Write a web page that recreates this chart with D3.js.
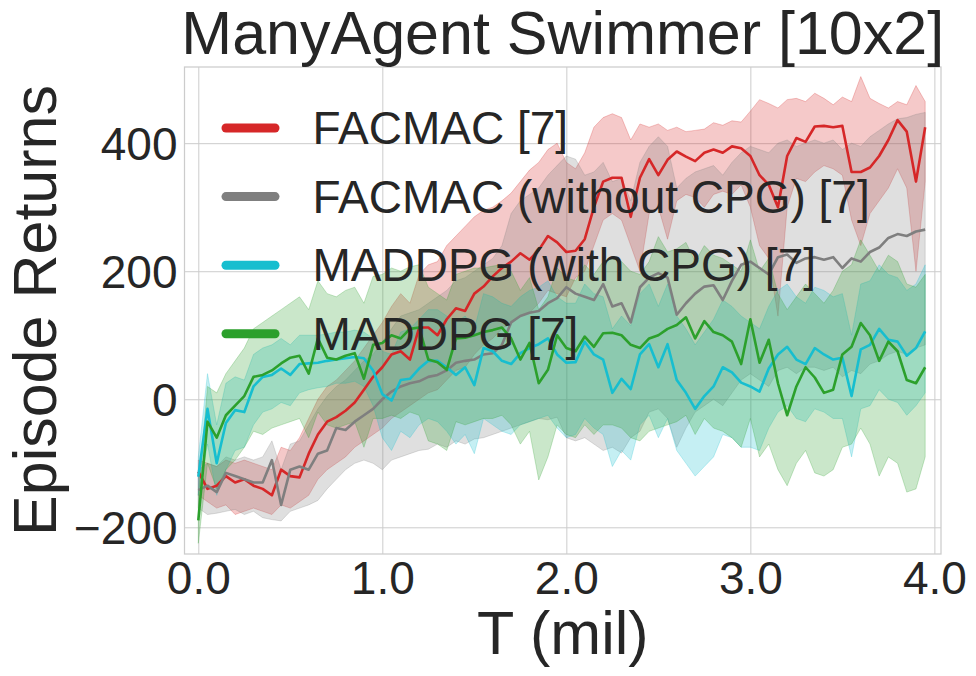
<!DOCTYPE html>
<html>
<head>
<meta charset="utf-8">
<script src="https://cdn.jsdelivr.net/npm/d3@7"></script>
<style>
  body { margin: 0; background: #fff; }
  text { font-family: "Liberation Sans", Arial, sans-serif; fill: #262626; }
</style>
</head>
<body>
<script>
// samples every 0.05 mil steps
var T_STEP = 0.05;

var seriesNames = ["FACMAC [7]", "FACMAC (without CPG) [7]", "MADDPG (with CPG) [7]", "MADDPG [7]"];
var seriesColors = ["#d62728", "#7f7f7f", "#17becf", "#2ca02c"];

var xTicks = [0, 1, 2, 3, 4];
var yTicks = [-200, 0, 200, 400];

var facmacMean = [-113,-140,-135,-120,-130,-125,-135,-140,-150,-110,
  -120,-122,-85,-55,-35,-28,-18,-5,15,35,
  50,70,75,62,112,112,100,125,142,138,
  165,176,192,205,215,228,218,233,255,245,
  230,232,250,300,340,346,346,285,346,375,
  350,374,387,379,372,385,390,385,395,392,
  380,350,335,300,380,408,402,426,427,425,
  427,355,355,362,380,405,436,418,340,425];
var facmacLo = [-150,-160,-170,-165,-180,-175,-170,-175,-180,-165,
  -170,-160,-150,-125,-110,-100,-90,-75,-65,-55,
  -45,-30,-20,-10,0,10,15,30,45,50,
  70,85,95,110,120,130,135,150,170,165,
  160,190,200,240,280,290,280,240,200,290,
  300,250,310,320,315,300,320,325,320,335,
  300,240,220,130,300,345,340,355,365,360,
  350,280,240,290,310,330,360,330,200,340];
var facmacHi = [-95,-100,-105,-95,-100,-95,-100,-105,-110,-75,
  -80,-60,-30,0,20,30,45,60,80,100,
  120,145,165,150,195,210,215,240,255,270,
  285,295,300,310,322,340,358,370,390,400,
  370,360,385,425,440,446,440,405,430,425,
  430,420,425,418,420,422,432,428,435,433,
  450,468,462,455,468,470,465,478,470,460,
  472,465,504,470,462,455,465,460,490,465];

var noCpgMean = [-142,-135,-145,-115,-120,-125,-130,-130,-95,-165,
  -110,-105,-110,-85,-80,-45,-48,-35,-25,-15,
  0,12,20,25,28,35,38,45,57,60,
  62,70,72,85,120,130,135,138,150,158,
  175,165,160,155,180,145,150,120,175,190,
  197,190,132,150,165,176,178,155,185,210,
  215,205,195,222,226,213,220,222,218,222,
  205,220,215,230,237,252,258,255,262,265];
var noCpgLo = [-170,-180,-178,-175,-172,-180,-175,-185,-188,-190,
  -175,-170,-165,-158,-140,-125,-110,-100,-95,-100,
  -110,-95,-90,-85,-80,-78,-70,-75,-65,-70,
  -62,-60,-55,-50,-45,-40,-35,-30,-32,-28,
  -60,-65,-60,-70,-80,-75,-84,-60,-50,-20,
  -15,-30,-75,-45,-20,-10,0,-10,10,30,
  40,30,20,45,50,40,50,50,45,50,
  35,45,40,55,60,70,75,70,80,85];
var noCpgHi = [-110,-100,-105,-90,-95,-90,-95,-90,-65,-110,
  -70,-65,-40,-15,5,20,30,45,60,70,
  90,110,130,135,140,150,160,170,185,190,
  200,210,220,240,290,310,320,330,350,365,
  380,375,350,355,370,340,345,310,370,395,
  410,395,330,345,355,360,365,350,370,385,
  395,390,385,400,405,395,400,405,400,405,
  390,400,395,410,420,430,438,440,445,448];

var cpgMean = [-121,-15,-100,-37,-17,-20,20,35,38,48,
  38,55,56,57,60,62,64,66,64,45,
  8,-2,30,32,48,60,60,50,38,50,
  22,80,75,60,55,72,80,86,95,70,
  57,58,90,70,62,10,32,16,70,86,
  50,86,30,10,-15,5,20,50,42,26,
  20,12,48,70,82,62,55,80,70,62,
  65,5,78,85,110,93,90,68,80,106];
var cpgLo = [-150,-70,-150,-110,-80,-75,-40,-20,-15,-5,
  -10,10,15,18,20,25,25,28,20,-10,
  -60,-80,-50,-60,-40,-30,-35,-50,-70,-55,
  -85,-30,-40,-50,-55,-40,-35,-30,-25,-45,
  -60,-55,-30,-45,-55,-105,-80,-95,-40,-25,
  -60,-30,-80,-100,-120,-105,-90,-55,-60,-75,
  -75,-80,-45,-20,-10,-30,-35,-15,-20,-30,
  -30,-90,-15,-10,15,0,-5,-25,-10,10];
var cpgHi = [-90,40,-40,25,35,30,70,80,85,95,
  85,100,100,100,102,105,105,108,105,95,
  75,70,105,110,125,140,140,130,120,130,
  110,165,160,150,145,160,170,175,185,160,
  150,150,180,165,160,110,130,115,165,180,
  145,180,130,110,85,105,125,155,145,130,
  120,110,145,170,180,160,150,175,170,160,
  165,100,180,185,210,195,190,170,180,210];

var maddpgMean = [-189,-35,-60,-25,-10,5,35,38,45,56,
  65,68,40,95,65,62,68,72,32,85,
  88,100,95,110,112,62,58,46,95,96,
  100,105,108,112,95,62,88,25,46,100,
  80,75,98,82,103,104,100,85,80,95,
  100,110,116,128,95,122,105,100,90,55,
  125,57,93,25,-25,20,50,34,10,15,
  70,82,119,100,60,90,75,30,25,50];
var maddpgLo = [-225,-100,-140,-110,-95,-75,-50,-55,-45,-40,
  -35,-30,-60,-20,-40,-45,-40,-35,-75,-30,
  -30,-25,-30,-20,-25,-65,-70,-80,-35,-40,
  -35,-30,-30,-25,-40,-70,-50,-126,-90,-40,
  -55,-60,-40,-55,-40,-40,-45,-60,-65,-50,
  -45,-40,-35,-25,-55,-30,-45,-50,-60,-75,
  -30,-90,-70,-110,-135,-100,-80,-115,-120,-110,
  -75,-70,-45,-70,-120,-90,-100,-145,-140,-90];
var maddpgHi = [-150,20,10,40,60,80,110,120,130,140,
  150,160,140,185,165,160,170,175,150,192,
  195,205,200,207,210,175,165,155,195,200,
  205,205,208,210,200,170,190,140,160,205,
  190,185,210,195,215,220,215,200,195,215,
  254,230,235,245,215,240,225,220,210,200,
  249,200,220,165,140,160,180,165,150,170,
  200,210,249,225,200,225,215,180,175,195];

var W = 976, H = 676;
var margin = {left: 184.5, right: 35, top: 67, bottom: 122};
var pw = W - margin.left - margin.right;
var ph = H - margin.top - margin.bottom;

var svg = d3.select("body").append("svg")
    .attr("width", W)
    .attr("height", H);

var x = d3.scaleLinear().domain([-0.075, 4.036]).range([0, pw]);
var y = d3.scaleLinear().domain([-241.7, 519]).range([ph, 0]);

var g = svg.append("g").attr("transform", "translate(" + margin.left + "," + margin.top + ")");

// grid via axes
var xAxis = g.append("g")
    .attr("transform", "translate(0," + ph + ")")
    .call(d3.axisBottom(x).tickValues(xTicks).tickSize(-ph).tickPadding(8).tickFormat(d3.format(".1f")));
var yAxis = g.append("g")
    .call(d3.axisLeft(y).tickValues(yTicks).tickSize(-pw).tickPadding(7).tickFormat(function(d){ return d < 0 ? "\u2212" + Math.abs(d) : d; }));

[xAxis, yAxis].forEach(function(a){
  a.select(".domain").remove();
  a.selectAll(".tick line").attr("stroke", "#cccccc").attr("stroke-width", 1);
  a.selectAll(".tick text").attr("font-size", 46).attr("fill", "#262626")
    .attr("font-family", "Liberation Sans, Arial, sans-serif");
});
xAxis.selectAll(".tick text").attr("dy", "0.71em").attr("y", 7);
yAxis.selectAll(".tick text").attr("dy", "0.36em");

g.append("defs").append("clipPath").attr("id", "clip")
  .append("rect").attr("width", pw).attr("height", ph);

var series = [
  {mean: facmacMean, lo: facmacLo, hi: facmacHi},
  {mean: noCpgMean, lo: noCpgLo, hi: noCpgHi},
  {mean: cpgMean, lo: cpgLo, hi: cpgHi},
  {mean: maddpgMean, lo: maddpgLo, hi: maddpgHi}
];

var plot = g.append("g").attr("clip-path", "url(#clip)");

var area = d3.area()
    .x(function(d){ return x(d.t); })
    .y0(function(d){ return y(d.lo); })
    .y1(function(d){ return y(d.hi); });
var line = d3.line()
    .x(function(d){ return x(d.t); })
    .y(function(d){ return y(d.v); });

series.forEach(function(s, i){
  var pts = s.mean.map(function(v, k){ return {t: k * T_STEP, v: v, lo: s.lo[k], hi: s.hi[k]}; });
  plot.append("path")
    .datum(pts)
    .attr("d", area)
    .attr("fill", seriesColors[i])
    .attr("fill-opacity", 0.25)
    .attr("stroke", seriesColors[i])
    .attr("stroke-opacity", 0.25)
    .attr("stroke-width", 1);
});
series.forEach(function(s, i){
  var pts = s.mean.map(function(v, k){ return {t: k * T_STEP, v: v}; });
  plot.append("path")
    .datum(pts)
    .attr("d", line)
    .attr("fill", "none")
    .attr("stroke", seriesColors[i])
    .attr("stroke-width", 2.6)
    .attr("stroke-linejoin", "round");
});

// frame
g.append("rect")
  .attr("width", pw).attr("height", ph)
  .attr("fill", "none").attr("stroke", "#cccccc").attr("stroke-width", 1.25);

// legend
var legend = g.append("g").attr("transform", "translate(37,61)");
seriesNames.forEach(function(name, i){
  var row = legend.append("g").attr("transform", "translate(0," + (i * 68.6) + ")");
  row.append("line")
    .attr("x1", 4.5).attr("x2", 53.5)
    .attr("y1", 0).attr("y2", 0)
    .attr("stroke", seriesColors[i])
    .attr("stroke-width", 9)
    .attr("stroke-linecap", "round");
  row.append("text")
    .attr("x", 91).attr("y", 16)
    .attr("font-size", 46)
    .text(name);
});

// title and axis labels
svg.append("text")
  .attr("x", margin.left + pw / 2).attr("y", 54)
  .attr("text-anchor", "middle")
  .attr("font-size", 61)
  .text("ManyAgent Swimmer [10x2]");

svg.append("text")
  .attr("x", margin.left + pw / 2).attr("y", 654)
  .attr("text-anchor", "middle")
  .attr("font-size", 61)
  .text("T (mil)");

svg.append("text")
  .attr("transform", "translate(56," + (margin.top + ph / 2) + ") rotate(-90)")
  .attr("text-anchor", "middle")
  .attr("font-size", 61)
  .text("Episode Returns");
</script>
</body>
</html>
